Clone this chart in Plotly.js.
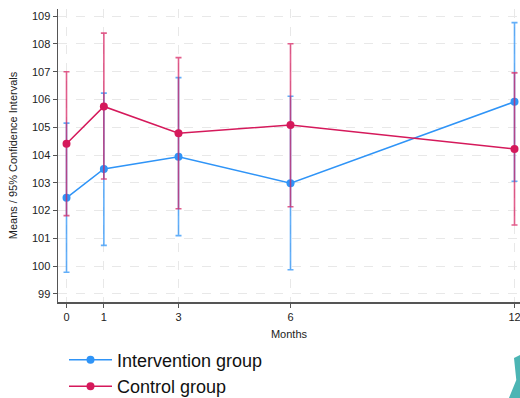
<!DOCTYPE html>
<html>
<head>
<meta charset="utf-8">
<script src="https://cdn.plot.ly/plotly-3.0.1.min.js"></script>
<style>html,body{margin:0;padding:0;background:#fff;}#chart{width:520px;height:398px;}</style>
</head>
<body>
<div id="chart"></div>
<script>
var months = [0, 1, 3, 6, 12];
var tickLabels = ["0", "1", "3", "6", "12"];
var interventionMean = [102.46, 103.50, 103.94, 102.99, 105.92];
var interventionUpper = [105.15, 106.23, 106.79, 106.12, 108.77];
var interventionLower = [99.78, 100.75, 101.10, 99.87, 103.06];
var controlMean = [104.41, 105.75, 104.79, 105.08, 104.22];
var controlUpper = [107.00, 108.39, 107.51, 108.01, 106.96];
var controlLower = [101.82, 103.14, 102.07, 102.14, 101.48];

function plus(u, m) { return u.map(function (v, i) { return v - m[i]; }); }
function minus(l, m) { return l.map(function (v, i) { return m[i] - v; }); }

var blue = "#2f94f7";
var red = "#d5195b";

var traces = [
  {
    x: months, y: interventionMean, type: "scatter", mode: "lines+markers",
    name: "Intervention group",
    line: { color: blue, width: 1.5 },
    marker: { color: blue, size: 8 },
    error_y: { type: "data", symmetric: false, array: plus(interventionUpper, interventionMean),
      arrayminus: minus(interventionLower, interventionMean), color: "rgba(47,148,247,0.75)", thickness: 1.6, width: 3 }
  },
  {
    x: months, y: controlMean, type: "scatter", mode: "lines+markers",
    name: "Control group",
    line: { color: red, width: 1.5 },
    marker: { color: red, size: 8 },
    error_y: { type: "data", symmetric: false, array: plus(controlUpper, controlMean),
      arrayminus: minus(controlLower, controlMean), color: "rgba(213,25,91,0.7)", thickness: 1.6, width: 3 }
  }
];

var layout = {
  width: 520, height: 398,
  margin: { l: 58, r: 0, t: 9, b: 96, autoexpand: false },
  paper_bgcolor: "#fff", plot_bgcolor: "#fff",
  font: { family: "Liberation Sans, Arial, sans-serif", color: "#222", size: 11 },
  showlegend: true,
  legend: {
    orientation: "v", x: 0.013, xanchor: "left",
    y: -0.135, yanchor: "top",
    font: { size: 18, color: "#111" }, tracegroupgap: 0, itemwidth: 43,
    bgcolor: "rgba(0,0,0,0)"
  },
  xaxis: {
    range: [-0.228, 12.147], tickvals: months, ticktext: tickLabels,
    automargin: true, ticklabeloverflow: "allow",
    showgrid: true, gridcolor: "#e8e8e8", griddash: "dash", gridwidth: 1,
    zeroline: false, showline: true, linecolor: "#555", linewidth: 1.5,
    ticks: "outside", ticklen: 4, tickcolor: "#555", tickfont: { size: 11 },
    title: { text: "Months", font: { size: 11 }, standoff: 8 }
  },
  yaxis: {
    range: [98.71, 109.26], tickvals: [99,100,101,102,103,104,105,106,107,108,109],
    automargin: true,
    showgrid: true, gridcolor: "#e8e8e8", griddash: "dash", gridwidth: 1,
    zeroline: false, showline: true, linecolor: "#555", linewidth: 1.5,
    ticks: "outside", ticklen: 4, tickcolor: "#555", tickfont: { size: 11 },
    title: { text: "Means / 95% Confidence Intervals", font: { size: 11 }, standoff: 12 }
  },
  shapes: [
    { type: "path", xref: "paper", yref: "paper",
      path: "M 0.987 -0.191 L 1.0 -0.181 L 1.0 -0.328 L 0.976 -0.328 L 0.992 -0.266 Z",
      fillcolor: "#4cb5b4", line: { width: 0 } }
  ]
};

Plotly.newPlot("chart", traces, layout, { staticPlot: true, displayModeBar: false });
</script>
</body>
</html>
